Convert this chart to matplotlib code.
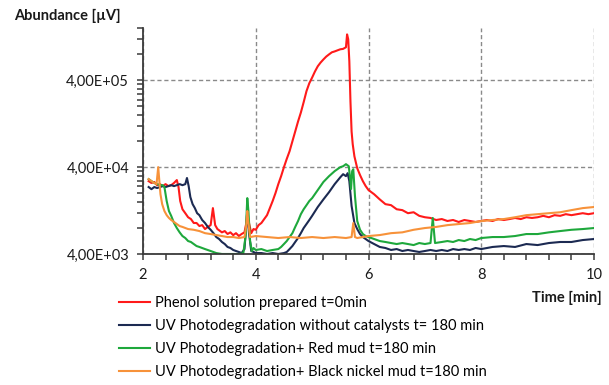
import matplotlib
matplotlib.use('Agg')
import matplotlib.pyplot as plt
from matplotlib.ticker import FixedLocator, NullFormatter

plt.rcParams['font.family'] = ['Lato', 'DejaVu Sans']

t_phenol = [2.10, 2.15, 2.20, 2.25, 2.30, 2.35, 2.40, 2.45, 2.50, 2.55, 2.60, 2.63, 2.66, 2.70,
            2.75, 2.80, 2.85, 2.90, 2.95, 3.00, 3.05, 3.10, 3.15, 3.20, 3.24, 3.28, 3.32, 3.40,
            3.45, 3.50, 3.55, 3.60, 3.65, 3.70, 3.75, 3.80, 3.85, 3.88, 3.92, 3.96, 4.00, 4.05,
            4.10, 4.15, 4.20, 4.25, 4.30, 4.35, 4.40, 4.45, 4.50, 4.55, 4.60, 4.65, 4.70, 4.75,
            4.80, 4.85, 4.90, 4.95, 5.00, 5.05, 5.10, 5.15, 5.20, 5.25, 5.30, 5.35, 5.40, 5.45,
            5.50, 5.55, 5.60, 5.62, 5.64, 5.66, 5.68, 5.70, 5.72, 5.75, 5.80, 5.85, 5.90, 5.95,
            6.00, 6.10, 6.20, 6.30, 6.40, 6.50, 6.60, 6.70, 6.80, 6.90, 7.00, 7.10, 7.20, 7.30,
            7.40, 7.50, 7.60, 7.70, 7.80, 7.90, 8.00, 8.10, 8.20, 8.30, 8.40, 8.50, 8.60, 8.70,
            8.80, 8.90, 9.00, 9.10, 9.20, 9.30, 9.40, 9.50, 9.60, 9.70, 9.80, 9.90, 10.0]
phenol = [27.6, 26.3, 27.0, 24.8, 25.5, 24.2, 25.5, 24.2, 24.8, 26.3, 28.4, 23.6, 16.3, 13.1,
          11.8, 10.6, 10.1, 9.1, 9.1, 8.4, 8.6, 7.75, 8.2, 8.6, 13.5, 8.6, 7.75, 7.1,
          7.35, 6.8, 7.1, 6.6, 6.95, 6.45, 6.8, 7.1, 10.4, 9.1, 6.95, 7.75, 7.6, 8.6,
          9.1, 10.1, 11.2, 13.5, 16.3, 20.1, 25.5, 31.5, 40.0, 49.8, 61.0, 79.3, 103, 134,
          170, 224, 300, 370, 430, 505, 580, 640, 695, 750, 795, 840, 860, 885,
          910, 920, 960, 1350, 1190, 661, 228, 103, 73.6, 53.3, 38.9, 32.4, 27.6, 24.2,
          21.8, 19.5, 17.0, 15.0, 14.6, 13.1, 12.8, 11.8, 12.1, 11.0, 10.6, 10.4, 9.85, 10.1,
          9.6, 9.85, 9.35, 9.85, 9.6, 9.35, 9.6, 9.85, 9.6, 10.1, 9.85, 10.1, 10.4, 10.1,
          10.6, 10.4, 10.6, 11.0, 10.6, 11.2, 11.0, 11.5, 11.2, 11.5, 11.8, 11.5, 11.8]

t_uv = [2.10, 2.15, 2.20, 2.25, 2.30, 2.35, 2.40, 2.45, 2.50, 2.55, 2.60, 2.65, 2.70, 2.75,
        2.78, 2.81, 2.84, 2.88, 2.92, 2.96, 3.00, 3.05, 3.10, 3.15, 3.20, 3.25, 3.30, 3.35,
        3.40, 3.45, 3.50, 3.55, 3.60, 3.65, 3.70, 3.75, 3.80, 3.83, 3.85, 3.88, 3.92, 3.96,
        4.00, 4.10, 4.20, 4.30, 4.40, 4.50, 4.55, 4.60, 4.65, 4.70, 4.75, 4.80, 4.85, 4.90,
        4.95, 5.00, 5.10, 5.20, 5.30, 5.40, 5.50, 5.55, 5.60, 5.63, 5.66, 5.70, 5.75, 5.80,
        5.85, 5.90, 5.95, 6.00, 6.10, 6.20, 6.30, 6.40, 6.50, 6.60, 6.70, 6.80, 6.90, 7.00,
        7.10, 7.20, 7.30, 7.40, 7.50, 7.60, 7.70, 7.80, 7.90, 8.00, 8.20, 8.40, 8.60, 8.80,
        9.00, 9.20, 9.40, 9.60, 9.80, 10.0]
uv = [23.6, 22.3, 23.6, 23.0, 23.6, 24.2, 23.6, 24.2, 24.8, 24.2, 24.8, 25.5, 24.8, 25.5,
      30.0, 24.2, 18.1, 15.0, 13.5, 11.8, 11.2, 9.85, 9.1, 8.2, 7.6, 6.95, 6.27, 5.95,
      5.5, 5.21, 4.82, 4.69, 4.45, 4.33, 4.22, 4.1, 4.56, 8.4, 12.5, 6.95, 4.33, 4.22,
      4.1, 4.1, 4.0, 4.1, 4.0, 4.1, 4.22, 4.56, 4.94, 5.5, 6.11, 6.95, 7.96, 8.85,
      9.85, 11.0, 13.9, 17.0, 20.6, 25.5, 30.6, 33.2, 31.5, 34.1, 27.6, 14.3, 9.1, 7.75,
      6.79, 6.27, 5.95, 5.64, 5.21, 4.82, 4.69, 4.45, 4.56, 4.33, 4.45, 4.33, 4.22, 4.33,
      4.45, 4.33, 4.45, 4.33, 4.56, 4.45, 4.56, 4.45, 4.69, 4.56, 4.82, 4.94, 4.82, 5.21,
      5.07, 5.35, 5.5, 5.5, 5.79, 5.95]

t_red_mud = [2.10, 2.15, 2.20, 2.25, 2.30, 2.35, 2.38, 2.42, 2.46, 2.50, 2.55, 2.60, 2.65, 2.70,
             2.75, 2.80, 2.85, 2.90, 2.95, 3.00, 3.10, 3.20, 3.30, 3.40, 3.50, 3.60, 3.70, 3.78,
             3.82, 3.85, 3.87, 3.90, 3.93, 3.96, 4.00, 4.10, 4.20, 4.30, 4.40, 4.45, 4.50, 4.55,
             4.60, 4.65, 4.70, 4.75, 4.80, 4.85, 4.90, 4.95, 5.00, 5.10, 5.20, 5.30, 5.40, 5.50,
             5.55, 5.60, 5.65, 5.67, 5.69, 5.71, 5.73, 5.76, 5.80, 5.85, 5.90, 5.95, 6.00, 6.10,
             6.20, 6.30, 6.40, 6.50, 6.60, 6.70, 6.80, 6.90, 7.00, 7.10, 7.14, 7.18, 7.30, 7.40,
             7.50, 7.60, 7.70, 7.80, 7.90, 8.00, 8.20, 8.40, 8.60, 8.80, 9.00, 9.20, 9.40, 9.60,
             9.80, 10.0]
red_mud = [29.1, 27.6, 26.3, 25.5, 24.8, 24.8, 23.6, 16.3, 12.5, 11.0, 9.1, 7.96, 7.1, 6.44,
           6.11, 5.64, 5.5, 5.21, 4.94, 4.82, 4.56, 4.33, 4.1, 4.0, 4.0, 4.0, 4.0, 4.1,
           6.44, 17.6, 12.5, 5.64, 4.33, 4.69, 4.45, 4.56, 4.33, 4.45, 4.56, 4.82, 5.21, 5.64,
           6.27, 6.95, 8.2, 9.58, 11.5, 13.1, 14.6, 16.3, 17.6, 21.8, 27.0, 31.5, 36.0, 40.0,
           41.0, 43.3, 41.0, 31.5, 22.4, 36.0, 37.8, 18.6, 9.58, 7.6, 6.79, 6.44, 6.27, 5.95,
           5.64, 5.5, 5.35, 5.21, 5.35, 5.21, 5.07, 5.35, 5.21, 5.35, 10.4, 5.35, 5.5, 5.64,
           5.5, 5.79, 5.64, 5.95, 5.79, 6.11, 6.27, 6.27, 6.44, 6.79, 6.79, 7.1, 7.35, 7.6,
           7.75, 7.96]

t_black = [2.10, 2.15, 2.20, 2.24, 2.27, 2.29, 2.31, 2.34, 2.38, 2.42, 2.46, 2.50, 2.55, 2.60,
           2.65, 2.70, 2.80, 2.90, 3.00, 3.10, 3.20, 3.30, 3.40, 3.50, 3.60, 3.70, 3.80, 3.83,
           3.85, 3.87, 3.90, 4.00, 4.20, 4.40, 4.60, 4.80, 5.00, 5.20, 5.40, 5.60, 5.70, 5.73,
           5.76, 5.80, 6.00, 6.20, 6.40, 6.60, 6.80, 7.00, 7.20, 7.40, 7.60, 7.80, 8.00, 8.20,
           8.40, 8.60, 8.80, 9.00, 9.20, 9.40, 9.60, 9.80, 10.0]
black = [29.1, 27.6, 26.3, 25.5, 40.0, 27.6, 19.5, 15.0, 12.5, 11.2, 10.4, 9.85, 9.35, 8.85,
         8.39, 8.2, 7.75, 7.6, 7.35, 6.95, 6.79, 6.61, 6.44, 6.27, 6.27, 6.11, 6.27, 8.39,
         12.5, 9.09, 6.27, 6.44, 6.27, 6.11, 6.27, 6.11, 6.27, 6.11, 6.27, 6.11, 6.27, 9.09,
         6.27, 6.11, 6.44, 6.61, 6.95, 7.1, 7.6, 7.96, 8.2, 8.6, 8.85, 9.09, 9.58, 9.85,
         10.1, 10.6, 11.2, 11.5, 11.8, 12.1, 12.8, 13.5, 13.9]

labels = ['Phenol solution prepared t=0min',
          'UV Photodegradation without catalysts t= 180 min',
          'UV Photodegradation+ Red mud t=180 min',
          'UV Photodegradation+ Black nickel mud t=180 min']
colors = ['#ff1a1a', '#1c2a52', '#1ea83c', '#f7923a']

y_major = [4e3, 4e4, 4e5]
y_labels = ['4,00E+03', '4,00E+04', '4,00E+05']

fig = plt.figure(figsize=(6.09, 3.85), dpi=100)
ax = fig.add_axes([143 / 609, 1 - 254 / 385, 451 / 609, 226 / 385])

series = [(t_phenol, phenol), (t_uv, uv), (t_red_mud, red_mud), (t_black, black)]
handles = []
for (t, v), c, lab in zip(series, colors, labels):
    ln, = ax.plot(t, [x * 1000 for x in v], color=c, lw=1.5, label=lab)
    handles.append(ln)

ax.set_yscale('log')
ax.set_ylim(4e3, 1.6e6)
ax.set_xlim(2, 10)

ax.yaxis.set_major_locator(FixedLocator(y_major))
ax.set_yticklabels(y_labels)
minors = [k * 4 * 10 ** n for n in (3, 4, 5) for k in range(2, 10) if k * 4 * 10 ** n <= 1.6e6]
ax.yaxis.set_minor_locator(FixedLocator(minors))
ax.yaxis.set_minor_formatter(NullFormatter())

ax.set_xticks([2, 4, 6, 8, 10])
ax.set_xticks([2 + 0.4 * i for i in range(21)], minor=True)

for s in ['top', 'right']:
    ax.spines[s].set_visible(False)
for s in ['left', 'bottom']:
    ax.spines[s].set_color('#3a3a3a')
    ax.spines[s].set_linewidth(1.3)

ax.tick_params(which='both', direction='out', color='#3a3a3a', width=1.1, labelsize=10.5,
               labelcolor='#1a1a1a')
ax.tick_params(which='major', length=4, pad=6)
ax.tick_params(which='minor', length=4)

ax.grid(True, which='major', color='#8a8a8a', linestyle=(0, (3, 2)), linewidth=1.0)
ax.set_axisbelow(True)

fig.text(14 / 609, 1 - 16 / 385, 'Abundance [µV]', fontsize=10.5, fontweight='bold',
         va='center', ha='left', color='#1a1a1a')
fig.text(602 / 609, 1 - 298 / 385, 'Time [min]', fontsize=10.5, fontweight='bold',
         va='center', ha='right', color='#1a1a1a')

fig.legend(handles=handles, loc='upper left', bbox_to_anchor=(119 / 609, 1 - 296 / 385),
           frameon=False, fontsize=10.5, handlelength=2.1, handletextpad=0.35,
           labelspacing=0.62, borderaxespad=0, borderpad=0)

fig.savefig('out.png', dpi=100)
